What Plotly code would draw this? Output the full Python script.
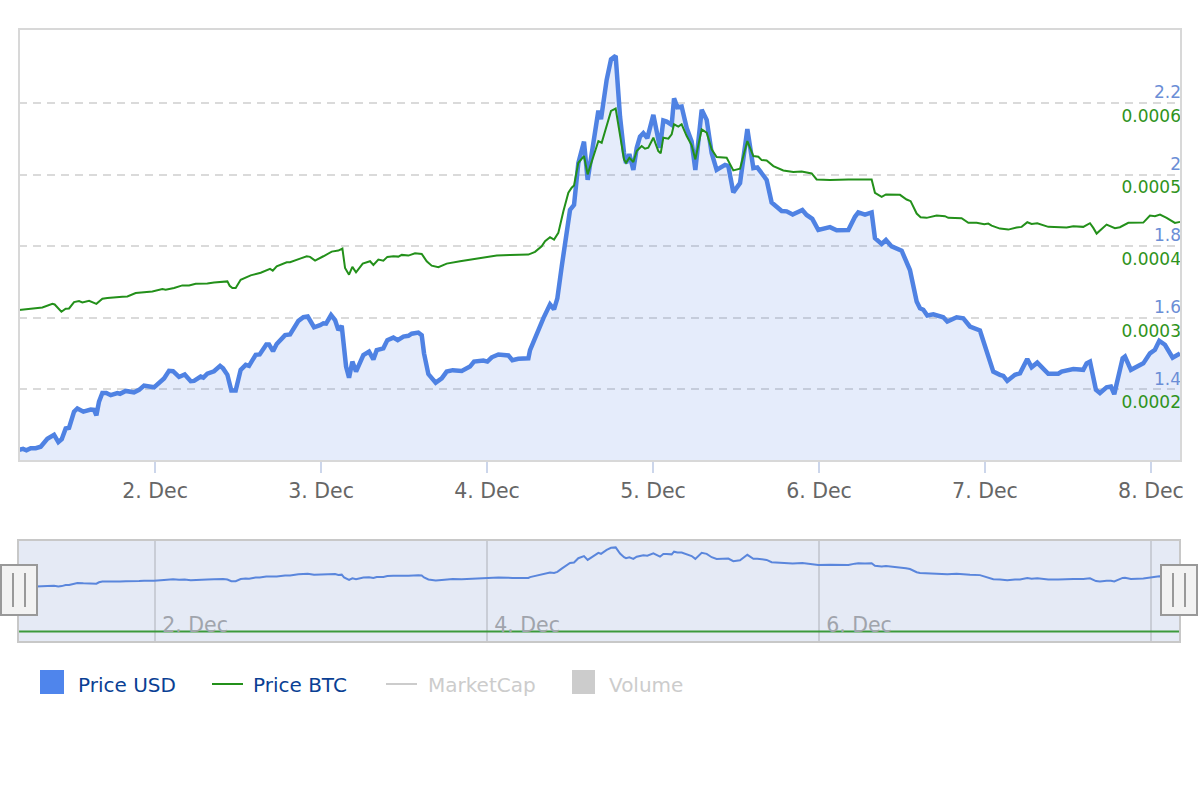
import pandas as pd
import plotly.graph_objects as go

# hours counted from 1 Dec 00:00
usd_hours = [
    4.34, 4.92, 5.40, 6.02, 6.75, 7.47, 8.43, 9.40, 10.02, 10.51, 11.08, 11.57, 12.29, 12.77, 13.64, 14.70,
    15.18, 15.52, 15.90, 16.38, 16.96, 17.59, 18.55, 18.94, 19.76, 20.96, 21.69, 22.41, 23.85, 25.30, 26.02,
    26.60, 27.47, 28.29, 29.16, 29.64, 30.60, 30.99, 31.56, 32.53, 33.40, 33.83, 34.46, 35.03, 35.66, 36.38,
    37.11, 37.59, 38.55, 39.13, 40.09, 40.48, 41.06, 41.59, 42.80, 43.52, 44.73, 45.45, 46.08, 46.99, 47.86,
    48.34, 48.73, 49.45, 50.03, 50.51, 50.99, 51.33, 51.62, 52.05, 52.53, 53.06, 54.12, 54.94, 55.57, 56.05,
    57.01, 57.59, 58.46, 59.09, 59.91, 60.63, 61.11, 62.07, 62.56, 62.89, 63.52, 64.58, 65.45, 66.17, 67.04,
    68.34, 69.54, 70.12, 71.47, 72.05, 72.68, 73.64, 75.09, 75.66, 76.53, 77.98, 78.22, 80.14, 81.11, 81.69,
    82.17, 82.80, 83.52, 84.00, 84.58, 85.20, 86.02, 86.55, 88.10, 88.48, 89.30, 89.93, 90.60, 91.23, 91.81,
    92.10, 92.58, 93.16, 93.64, 94.12, 94.60, 95.18, 96.05, 97.01, 97.49, 97.98, 98.70, 99.04, 99.52, 100.14,
    100.87, 101.59, 102.12, 103.04, 103.76, 104.48, 105.20, 106.41, 106.89, 107.61, 108.58, 109.64, 110.51,
    111.08, 112.43, 113.15, 114.60, 115.32, 116.19, 117.59, 118.21, 119.03, 119.90, 121.59, 122.55, 124.24,
    125.20, 125.68, 126.65, 127.61, 128.09, 129.06, 129.68, 130.50, 131.95, 132.57, 133.15, 134.12, 134.60,
    135.08, 135.66, 136.53, 137.97, 138.55, 139.90, 140.86, 141.83, 143.27, 144.24, 145.20, 146.16, 146.65,
    147.22, 148.33, 149.06, 150.11, 150.74, 151.56, 153.15, 154.60, 155.08, 156.28, 156.77, 158.21, 158.69,
    159.18, 160.04, 160.62, 161.58, 162.21, 162.69, 163.90, 164.24, 165.10, 166.89, 167.85, 168.57, 169.20,
    170.02, 171.13, 172.20,
]
usd_values = [
    1.231, 1.234, 1.230, 1.236, 1.236, 1.240, 1.262, 1.273, 1.253, 1.261, 1.291, 1.293, 1.338, 1.347, 1.338, 1.344,
    1.343, 1.328, 1.366, 1.390, 1.390, 1.384, 1.390, 1.388, 1.396, 1.392, 1.399, 1.411, 1.406, 1.431, 1.452,
    1.451, 1.435, 1.442, 1.423, 1.424, 1.436, 1.433, 1.444, 1.451, 1.466, 1.459, 1.441, 1.397, 1.397, 1.455,
    1.469, 1.466, 1.497, 1.498, 1.526, 1.526, 1.507, 1.527, 1.552, 1.554, 1.592, 1.602, 1.604, 1.574, 1.580,
    1.585, 1.584, 1.608, 1.594, 1.566, 1.578, 1.501, 1.464, 1.433, 1.478, 1.450, 1.496, 1.506, 1.484, 1.510,
    1.515, 1.538, 1.545, 1.538, 1.548, 1.550, 1.556, 1.559, 1.552, 1.501, 1.443, 1.419, 1.431, 1.450, 1.454,
    1.452, 1.464, 1.478, 1.481, 1.478, 1.490, 1.498, 1.495, 1.482, 1.486, 1.487, 1.510, 1.599, 1.638, 1.624,
    1.655, 1.744, 1.828, 1.902, 1.916, 2.033, 2.093, 1.986, 2.180, 2.156, 2.266, 2.323, 2.333, 2.163, 2.061,
    2.033, 2.058, 2.014, 2.075, 2.107, 2.117, 2.103, 2.168, 2.076, 2.152, 2.149, 2.140, 2.214, 2.189, 2.191,
    2.131, 2.093, 2.014, 2.182, 2.154, 2.061, 2.014, 2.028, 2.025, 1.951, 1.977, 2.128, 2.019,
    2.021, 1.986, 1.923, 1.899, 1.898, 1.889, 1.902, 1.888, 1.877, 1.846, 1.854, 1.845, 1.846,
    1.883, 1.895, 1.889, 1.895, 1.823, 1.807, 1.818, 1.800, 1.788, 1.758, 1.734, 1.646, 1.627,
    1.623, 1.607, 1.610, 1.602, 1.590, 1.602, 1.599, 1.576, 1.565, 1.506, 1.450, 1.441, 1.438,
    1.424, 1.441, 1.445, 1.485, 1.462, 1.475, 1.444, 1.444, 1.450, 1.453, 1.457, 1.455, 1.473,
    1.478, 1.399, 1.390, 1.406, 1.408, 1.387, 1.487, 1.492, 1.455, 1.473, 1.501, 1.511, 1.536,
    1.525, 1.489, 1.501,
]

btc_hours = [
    4.34, 5.78, 7.71, 9.16, 9.49, 10.46, 11.08, 11.57, 12.29, 13.01, 13.49, 14.46, 15.04, 15.52, 16.39, 17.11,
    19.28, 20.00, 21.20, 22.17, 23.61, 25.06, 25.54, 26.75, 27.95, 28.92, 29.88, 31.56, 32.53, 34.46, 34.79,
    35.18, 35.66, 36.38, 37.83, 39.28, 40.00, 40.63, 41.02, 41.59, 43.04, 43.52, 44.97, 45.93, 46.41, 47.14,
    48.34, 48.82, 49.55, 50.51, 51.09, 51.47, 52.05, 52.53, 53.06, 54.03, 55.09, 55.57, 56.29, 57.01, 57.59,
    58.46, 59.18, 59.67, 60.63, 61.59, 62.56, 63.28, 64.00, 64.97, 66.17, 68.10, 70.51, 73.40, 75.33, 77.98,
    78.94, 79.90, 80.39, 81.11, 81.69, 82.31, 83.04, 83.76, 84.24, 84.58, 85.20, 86.02, 86.55, 88.10, 88.58,
    89.20, 89.93, 90.60, 91.13, 91.81, 92.10, 92.58, 93.16, 93.64, 94.36, 94.84, 95.32, 96.05, 96.77, 97.11,
    97.49, 98.22, 98.70, 99.04, 99.66, 100.14, 100.87, 101.59, 102.12, 103.04, 103.76, 104.48, 105.20, 106.65,
    107.61, 108.58, 109.64, 110.51, 111.23, 111.71, 112.43, 113.40, 114.84, 116.29, 117.49, 118.94, 119.66,
    121.59, 124.24, 127.61, 128.09, 129.06, 129.68, 131.71, 132.67, 133.25, 134.12, 134.69, 135.56, 137.01,
    138.21, 138.69, 140.62, 141.59, 142.79, 143.90, 144.48, 144.96, 146.16, 147.37, 148.57, 149.30, 150.12,
    150.74, 151.56, 153.15, 155.80, 156.77, 158.21, 159.18, 159.66, 160.14, 161.58, 162.79, 163.51, 164.72,
    166.89, 167.85, 168.57, 169.30, 170.26, 171.46, 172.20,
]
btc_values = [
    0.0003106, 0.0003120, 0.0003143, 0.0003194, 0.0003185, 0.0003083, 0.0003125, 0.0003129, 0.0003218, 0.0003232,
    0.0003213, 0.0003236, 0.0003218, 0.0003194, 0.0003264, 0.0003274, 0.0003292, 0.0003297, 0.0003344, 0.0003353,
    0.0003367, 0.0003400, 0.0003390, 0.0003414, 0.0003451, 0.0003451, 0.0003474, 0.0003479, 0.0003493, 0.0003507,
    0.0003446, 0.0003414, 0.0003414, 0.0003530, 0.0003591, 0.0003628, 0.0003661, 0.0003681, 0.0003657, 0.0003718,
    0.0003774, 0.0003774, 0.0003825, 0.0003858, 0.0003849, 0.0003797, 0.0003858, 0.0003881, 0.0003923, 0.0003937,
    0.0003965, 0.0003695, 0.0003601, 0.0003709, 0.0003634, 0.0003755, 0.0003788, 0.0003737, 0.0003811, 0.0003797,
    0.0003849, 0.0003858, 0.0003853, 0.0003877, 0.0003867, 0.0003900, 0.0003891, 0.0003788, 0.0003727, 0.0003704,
    0.0003755, 0.0003788, 0.0003825, 0.0003867, 0.0003877, 0.0003881, 0.0003919, 0.0003998, 0.0004068, 0.0004124,
    0.0004091, 0.0004184, 0.0004487, 0.0004744, 0.0004814, 0.0004846, 0.0005163, 0.0005257, 0.0005000, 0.0005466,
    0.0005443, 0.0005653, 0.0005886, 0.0005919, 0.0005583, 0.0005210, 0.0005163, 0.0005233, 0.0005173, 0.0005326,
    0.0005396, 0.0005359, 0.0005373, 0.0005513, 0.0005326, 0.0005294, 0.0005513, 0.0005499, 0.0005560, 0.0005700,
    0.0005667, 0.0005700, 0.0005536, 0.0005406, 0.0005210, 0.0005630, 0.0005583, 0.0005350, 0.0005243, 0.0005233,
    0.0005056, 0.0005079, 0.0005466, 0.0005257, 0.0005247, 0.0005200, 0.0005196, 0.0005117, 0.0005056, 0.0005033,
    0.0005042, 0.0005014, 0.0004930, 0.0004921, 0.0004930, 0.0004930, 0.0004743, 0.0004687, 0.0004720, 0.0004715,
    0.0004650, 0.0004627, 0.0004454, 0.0004403, 0.0004394, 0.0004426, 0.0004417, 0.0004394, 0.0004389, 0.0004324,
    0.0004324, 0.0004305, 0.0004314, 0.0004286, 0.0004244, 0.0004230, 0.0004258, 0.0004268, 0.0004333, 0.0004310,
    0.0004319, 0.0004268, 0.0004258, 0.0004277, 0.0004268, 0.0004319, 0.0004254, 0.0004174, 0.0004300, 0.0004249,
    0.0004263, 0.0004324, 0.0004328, 0.0004426, 0.0004417, 0.0004440, 0.0004394, 0.0004324, 0.0004338,
]

usd_ticks = [1.4, 1.6, 1.8, 2, 2.2]
btc_ticks = [0.0002, 0.0003, 0.0004, 0.0005, 0.0006]
legend_names = ["Price USD", "Price BTC", "MarketCap", "Volume"]

start = pd.Timestamp("2017-12-01")
usd_x = start + pd.to_timedelta(usd_hours, unit="h")
btc_x = start + pd.to_timedelta(btc_hours, unit="h")
x_range = [start + pd.Timedelta(hours=4.33), start + pd.Timedelta(hours=172.34)]
nav_range = [start + pd.Timedelta(hours=4.33), start + pd.Timedelta(hours=172.05)]

FONT = "DejaVu Sans"
BLUE = "#4f82e3"
GREEN = "#23901a"
W, H = 1200, 800


def px(v):
    # picture comes out about 3px short across the width
    return v / 1197


def py(v):
    return 1 - v / H


fig = go.Figure()

# main chart
fig.add_trace(go.Scatter(x=usd_x, y=usd_values, mode="lines", name="Price USD", xaxis="x", yaxis="y",
                         line=dict(color=BLUE, width=4.5), fill="tozeroy", fillcolor="rgba(80,130,225,0.15)"))
fig.add_trace(go.Scatter(x=btc_x, y=btc_values, mode="lines", name="Price BTC", xaxis="x", yaxis="y2",
                         line=dict(color=GREEN, width=2)))

# navigator below
fig.add_trace(go.Scatter(x=usd_x, y=usd_values, mode="lines", xaxis="x2", yaxis="y3",
                         line=dict(color="#5a86dc", width=2)))
fig.add_trace(go.Scatter(x=btc_x, y=btc_values, mode="lines", xaxis="x2", yaxis="y3",
                         line=dict(color="#3c9a3c", width=2)))

shapes = [
    dict(type="rect", xref="paper", yref="paper", x0=px(19), x1=px(1179), y0=py(641), y1=py(541),
         fillcolor="#e5eaf5", line_width=0, layer="below"),
    # main plot frame
    dict(type="rect", xref="paper", yref="paper", x0=px(19), x1=px(1181), y0=py(461), y1=py(29),
         line=dict(color="#d8d8d8", width=2), layer="above"),
]
# navigator handles
for left in (1, 1161):
    shapes.append(dict(type="rect", xref="paper", yref="paper", x0=px(left), x1=px(left + 36), y0=py(615), y1=py(565),
                       fillcolor="#f2f2f2", line=dict(color="#999999", width=2), layer="above"))
    for off in (12, 24):
        shapes.append(dict(type="line", xref="paper", yref="paper", x0=px(left + off), x1=px(left + off),
                           y0=py(607), y1=py(573), line=dict(color="#999999", width=2), layer="above"))
# legend symbols
shapes.append(dict(type="rect", xref="paper", yref="paper", x0=px(40), x1=px(64), y0=py(694), y1=py(670),
                   fillcolor="#4f85ec", line_width=0))
shapes.append(dict(type="line", xref="paper", yref="paper", x0=px(212), x1=px(243), y0=py(684), y1=py(684),
                   line=dict(color=GREEN, width=2)))
shapes.append(dict(type="line", xref="paper", yref="paper", x0=px(386), x1=px(417), y0=py(684), y1=py(684),
                   line=dict(color="#cccccc", width=2)))
shapes.append(dict(type="rect", xref="paper", yref="paper", x0=px(572), x1=px(595), y0=py(694), y1=py(670),
                   fillcolor="#cccccc", line_width=0))

annotations = []
for name, left, color in zip(legend_names, (78, 253, 428, 609), ("#0a3f94", "#0a3f94", "#cccccc", "#cccccc")):
    annotations.append(dict(text=name, xref="paper", yref="paper", x=px(left), y=py(685), xanchor="left",
                            yanchor="middle", showarrow=False, xshift=-2, font=dict(family=FONT, size=20, color=color)))

fig.update_layout(
    width=W,
    height=H,
    autosize=False,
    margin=dict(l=0, r=0, t=0, b=0),
    paper_bgcolor="white",
    plot_bgcolor="rgba(0,0,0,0)",
    showlegend=False,
    hovermode=False,
    font=dict(family=FONT),
    shapes=shapes,
    annotations=annotations,
    xaxis=dict(
        domain=[px(19), px(1181)], range=x_range, anchor="y", dtick=86400000,
        tick0="2017-12-02", tickformat="%-d. %b", showgrid=False, zeroline=False,
        ticks="outside", ticklen=11, tickwidth=2, tickcolor="#ccd6eb",
        ticklabeloverflow="allow", tickfont=dict(family=FONT, size=20.5, color="#666666"),
    ),
    # left-side axes pinned to the right edge: labels sit inside the plot and keep the 8 Dec tick
    yaxis=dict(
        domain=[py(461), py(29)], range=[1.2, 2.408], anchor="free", position=px(1181), side="left",
        tickvals=usd_ticks, ticktext=[str(t) for t in usd_ticks], ticklabelposition="outside top", ticks="",
        showgrid=True, gridcolor="#dadada", gridwidth=2, griddash="8px,6px", zeroline=False,
        ticklabelstandoff=0, ticklabelshift=1, tickfont=dict(family=FONT, size=17, color="#6b8ed6"),
    ),
    yaxis2=dict(
        domain=[py(461), py(29)], range=[0.0001, 0.000703], anchor="free", position=px(1181), overlaying="y",
        side="left", tickvals=btc_ticks, tickformat=".4f", ticklabelposition="outside bottom", ticks="",
        showgrid=False, zeroline=False, ticklabelstandoff=0, ticklabelshift=1,
        tickfont=dict(family=FONT, size=17, color="#2f9320"),
    ),
    xaxis2=dict(
        domain=[px(19), px(1179)], range=nav_range, anchor="y3", dtick=172800000, tick0="2017-12-02",
        tickformat="%-d. %b", showgrid=True, gridcolor="#c9cdd6", gridwidth=2, zeroline=False, showline=True,
        mirror=True, linecolor="#c8c8c8", linewidth=2, ticklabelposition="inside", ticks="",
        ticklabelshift=40, ticklabelstandoff=6, tickfont=dict(family=FONT, size=20.5, color="#a0a4ac"),
    ),
    yaxis3=dict(
        domain=[py(641), py(541)], range=[-0.26, 2.51], anchor="x2", showticklabels=False, ticks="",
        showgrid=False, zeroline=False, showline=True, mirror=True, linecolor="#c8c8c8", linewidth=2,
    ),
)

fig.write_html("out.html", config={"displayModeBar": False}, post_script="document.body.style.margin='0';")
